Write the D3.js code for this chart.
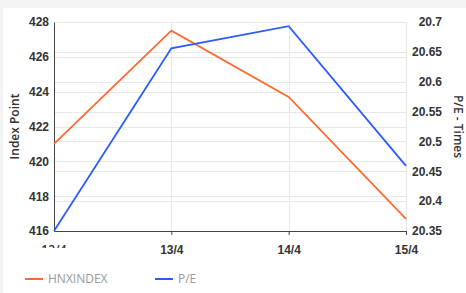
<!DOCTYPE html>
<html>
<head>
<meta charset="utf-8">
<script src="https://cdn.jsdelivr.net/npm/d3@7"></script>
<style>
  body { margin: 0; background: #f4f4f4; }
  svg { display: block; font-family: "Open Sans", "Noto Sans", sans-serif; }
</style>
</head>
<body>
<svg id="chart"></svg>
<script>
// chart data
var dates = ["12/4", "13/4", "14/4", "15/4"];
var hnxIndex = [421.0, 427.5, 423.7, 416.7];
var peTimes = [20.35, 20.656, 20.693, 20.459];
var leftTicks = [416, 418, 420, 422, 424, 426, 428];
var rightTicks = [20.35, 20.4, 20.45, 20.5, 20.55, 20.6, 20.65, 20.7];

var width = 466, height = 293;
var margin = {top: 22, right: 60, bottom: 62, left: 54};

var svg = d3.select("#chart")
  .attr("width", width)
  .attr("height", height);

// white card
svg.append("rect")
  .attr("x", 3).attr("y", 8)
  .attr("width", width - 3).attr("height", height - 8)
  .attr("fill", "#fff");

var x = d3.scalePoint()
  .domain(dates)
  .range([margin.left, width - margin.right]);

var yLeft = d3.scaleLinear()
  .domain([416, 428])
  .range([height - margin.bottom, margin.top]);

var yRight = d3.scaleLinear()
  .domain([20.35, 20.7])
  .range([height - margin.bottom, margin.top]);

var x0 = margin.left, x1 = width - margin.right;
var yb = height - margin.bottom;

// gridlines for both axes
var grid = svg.append("g").attr("stroke", "#e8e8e8").attr("stroke-width", 1);
grid.selectAll(".gl").data(leftTicks).enter().append("line")
  .attr("x1", x0).attr("x2", x1)
  .attr("y1", function(d) { return Math.round(yLeft(d)) + 0.5; })
  .attr("y2", function(d) { return Math.round(yLeft(d)) + 0.5; });
grid.selectAll(".gr").data(rightTicks).enter().append("line")
  .attr("x1", x0).attr("x2", x1)
  .attr("y1", function(d) { return Math.round(yRight(d)) + 0.5; })
  .attr("y2", function(d) { return Math.round(yRight(d)) + 0.5; });
grid.selectAll(".gx").data(dates.slice(1)).enter().append("line")
  .attr("x1", function(d) { return Math.round(x(d)) + 0.5; })
  .attr("x2", function(d) { return Math.round(x(d)) + 0.5; })
  .attr("y1", margin.top).attr("y2", yb);

// left axis
var leftAxis = svg.append("g")
  .attr("transform", "translate(" + x0 + ",0)")
  .call(d3.axisLeft(yLeft).tickValues(leftTicks).tickSize(0).tickPadding(5));
leftAxis.select(".domain").attr("stroke", "#444");

// right axis
var rightAxis = svg.append("g")
  .attr("transform", "translate(442,0)")
  .call(d3.axisLeft(yRight).tickValues(rightTicks).tickSize(0).tickPadding(0)
    .tickFormat(function(d) { return d3.format("")(+d.toFixed(2)); }));
rightAxis.select(".domain").remove();

// bottom axis
var bottomAxis = svg.append("g")
  .attr("transform", "translate(0," + yb + ")")
  .call(d3.axisBottom(x).tickSize(4).tickPadding(10).tickSizeOuter(0));
bottomAxis.select(".domain").attr("stroke", "#444");
bottomAxis.selectAll(".tick line").attr("stroke", "#444");
// the first label is cut off in the original: hide it, redraw it clipped
bottomAxis.selectAll(".tick").filter(function(d, i) { return i === 0; }).remove();
svg.append("clipPath").attr("id", "xclip")
  .append("rect").attr("x", 0).attr("y", 0).attr("width", width).attr("height", 248);
svg.append("text")
  .attr("class", "tick-clipped")
  .attr("clip-path", "url(#xclip)")
  .attr("x", x(dates[0]))
  .attr("y", yb + 14)
  .attr("dy", "0.71em")
  .attr("text-anchor", "middle")
  .text(dates[0]);

svg.selectAll(".tick text, .tick-clipped")
  .attr("fill", "#333")
  .style("font-size", "12px")
  .style("font-weight", "600");

// axis titles
svg.append("text")
  .attr("transform", "translate(19," + ((margin.top + yb) / 2) + ") rotate(-90)")
  .attr("text-anchor", "middle")
  .attr("fill", "#333")
  .style("font-size", "12px")
  .style("font-weight", "600")
  .text("Index Point");

svg.append("text")
  .attr("transform", "translate(454," + ((margin.top + yb) / 2) + ") rotate(90)")
  .attr("text-anchor", "middle")
  .attr("fill", "#333")
  .style("font-size", "12px")
  .style("font-weight", "600")
  .text("P/E - Times");

// lines
var hnxLine = d3.line()
  .x(function(d, i) { return x(dates[i]); })
  .y(function(d) { return yLeft(d); });
var peLine = d3.line()
  .x(function(d, i) { return x(dates[i]); })
  .y(function(d) { return yRight(d); });

svg.append("path").datum(hnxIndex)
  .attr("d", hnxLine)
  .attr("fill", "none")
  .attr("stroke", "#ff6a33")
  .attr("stroke-width", 1.8);

svg.append("path").datum(peTimes)
  .attr("d", peLine)
  .attr("fill", "none")
  .attr("stroke", "#2b5bff")
  .attr("stroke-width", 1.8);

// legend
var legendItems = [
  {name: "HNXINDEX", color: "#ff6a33", x: 25},
  {name: "P/E", color: "#2b5bff", x: 155}
];
var legend = svg.append("g").selectAll("g").data(legendItems).enter().append("g")
  .attr("transform", function(d) { return "translate(" + d.x + ",279)"; });
legend.append("line")
  .attr("x1", 0).attr("x2", 18)
  .attr("stroke", function(d) { return d.color; })
  .attr("stroke-width", 2);
legend.append("text")
  .attr("x", 23).attr("dy", "0.35em")
  .attr("fill", "#999")
  .style("font-size", "12px")
  .text(function(d) { return d.name; });
</script>
</body>
</html>
